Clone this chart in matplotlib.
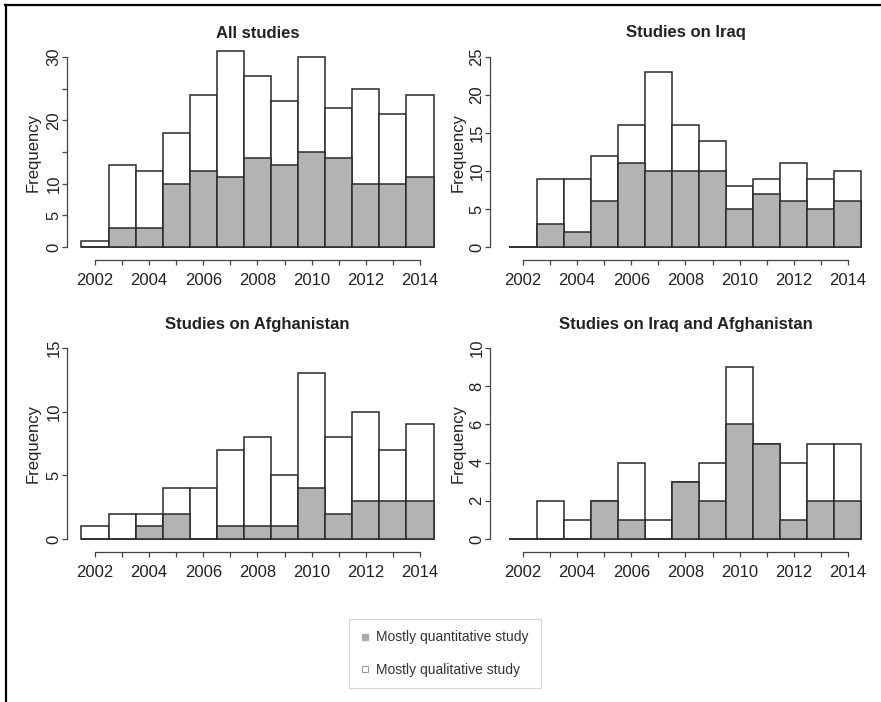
import numpy as np
import matplotlib
matplotlib.use("Agg")
import matplotlib.pyplot as plt
from matplotlib.lines import Line2D
from matplotlib.transforms import blended_transform_factory

plt.rcParams['font.family'] = ['Liberation Sans', 'DejaVu Sans']

# Publication years (one bar per year)
years = np.arange(2002, 2015)

# Total number of studies per year and the mostly quantitative part of it
all_total = [1, 13, 12, 18, 24, 31, 27, 23, 30, 22, 25, 21, 24]
all_quant = [0, 3, 3, 10, 12, 11, 14, 13, 15, 14, 10, 10, 11]

iraq_total = [0, 9, 9, 12, 16, 23, 16, 14, 8, 9, 11, 9, 10]
iraq_quant = [0, 3, 2, 6, 11, 10, 10, 10, 5, 7, 6, 5, 6]

afg_total = [1, 2, 2, 4, 4, 7, 8, 5, 13, 8, 10, 7, 9]
afg_quant = [0, 0, 1, 2, 0, 1, 1, 1, 4, 2, 3, 3, 3]

both_total = [0, 2, 1, 2, 4, 1, 3, 4, 9, 5, 4, 5, 5]
both_quant = [0, 0, 0, 2, 1, 0, 3, 2, 6, 5, 1, 2, 2]

titles = ["All studies", "Studies on Iraq", "Studies on Afghanistan",
          "Studies on Iraq and Afghanistan"]
y_max = [30, 25, 15, 10]
y_step = [5, 5, 5, 2]
# y labels that R keeps (the rest overlap and are dropped)
y_shown = [[0, 5, 10, 20, 30], [0, 5, 10, 15, 20, 25], [0, 5, 10, 15],
           [0, 2, 4, 6, 8, 10]]

legend_labels = ["Mostly quantitative study", "Mostly qualitative study"]

W, H = 881, 702
fig = plt.figure(figsize=(W / 100, H / 100), dpi=100)

GRAY = "#b3b3b3"
EDGE = "#2a2a2a"
TXT = "#222222"
PX_PER_YEAR = 27.08

# pixel layout of each panel: y-axis x, pixel of 2002 tick, right edge,
# x-axis line y, y of zero, y of top tick, axes top, title y, ylabel x
layout = [
    (67, 95, 440, 260, 247, 57, 40, 33, 41),
    (490, 523, 872, 260, 247, 57, 40, 33, 466),
    (67, 95, 440, 552, 539, 348, 335, 324, 41),
    (490, 523, 872, 552, 539, 348, 335, 324, 466),
]

panels = [(all_total, all_quant), (iraq_total, iraq_quant),
          (afg_total, afg_quant), (both_total, both_quant)]

for i, (total, quant) in enumerate(panels):
    left, p2002, right, xline, p0, pmax, top, ty, lx = layout[i]
    ax = fig.add_axes([left / W, 1 - xline / H, (right - left) / W, (xline - top) / H])

    x0 = 2002 - (p2002 - left) / PX_PER_YEAR
    x1 = 2002 + (right - p2002) / PX_PER_YEAR
    s = (p0 - pmax) / y_max[i]
    ax.set_xlim(x0, x1)
    ax.set_ylim(-(xline - p0) / s, y_max[i] + (pmax - top) / s)

    ax.bar(years, total, width=1.0, color="white", edgecolor=EDGE, linewidth=1.1)
    ax.bar(years, quant, width=1.0, color=GRAY, edgecolor=EDGE, linewidth=1.1)

    for side in ("top", "right"):
        ax.spines[side].set_visible(False)
    for side in ("left", "bottom"):
        ax.spines[side].set_color("#444444")
        ax.spines[side].set_linewidth(0.9)
    ax.spines["left"].set_bounds(0, y_max[i])
    ax.spines["bottom"].set_bounds(2002, 2014)

    ax.set_xticks(years)
    ax.set_xticklabels([str(y) if y % 2 == 0 else "" for y in years])
    yt = np.arange(0, y_max[i] + 1, y_step[i])
    ax.set_yticks(yt)
    ax.set_yticklabels([str(v) if v in y_shown[i] else "" for v in yt])
    ax.tick_params(axis="both", length=3.5, width=0.9, color="#444444",
                   labelsize=12, labelcolor=TXT)
    ax.tick_params(axis="x", pad=6)
    ax.tick_params(axis="y", pad=0.5)
    for lab in ax.get_yticklabels():
        lab.set_rotation(90)
        lab.set_va("center")

    ax.set_ylabel("Frequency", fontsize=12, color=TXT)
    ax.yaxis.set_label_coords((lx - left) / (right - left),
                              ((xline - (p0 + pmax) / 2)) / (xline - top))

    trans = blended_transform_factory(ax.transData, fig.transFigure)
    ax.text(2008, 1 - ty / H, titles[i], transform=trans, ha="center", va="center",
            fontsize=12, fontweight="bold", color=TXT)

# legend below the panels
handles = [
    Line2D([], [], marker="s", linestyle="none", markersize=5,
           markerfacecolor="#aaaaaa", markeredgecolor="#aaaaaa"),
    Line2D([], [], marker="s", linestyle="none", markersize=5,
           markerfacecolor="white", markeredgecolor="#999999", markeredgewidth=0.8),
]
leg = fig.legend(handles, legend_labels, loc="center",
                 bbox_to_anchor=(445 / W, 1 - 653.5 / H), fontsize=10,
                 frameon=True, fancybox=False, edgecolor="#cccccc",
                 handlelength=0.6, handletextpad=0.5, labelspacing=1.3,
                 borderpad=0.85, borderaxespad=0)
leg.get_frame().set_linewidth(0.8)
for t in leg.get_texts():
    t.set_color("#333333")

# outer frame lines on top and left
fig.add_artist(Line2D([5 / W, 1], [1 - 5 / H, 1 - 5 / H], color="black", linewidth=1.6))
fig.add_artist(Line2D([6 / W, 6 / W], [1 - 5 / H, 0], color="black", linewidth=1.6))

fig.savefig("out.png", dpi=100)
